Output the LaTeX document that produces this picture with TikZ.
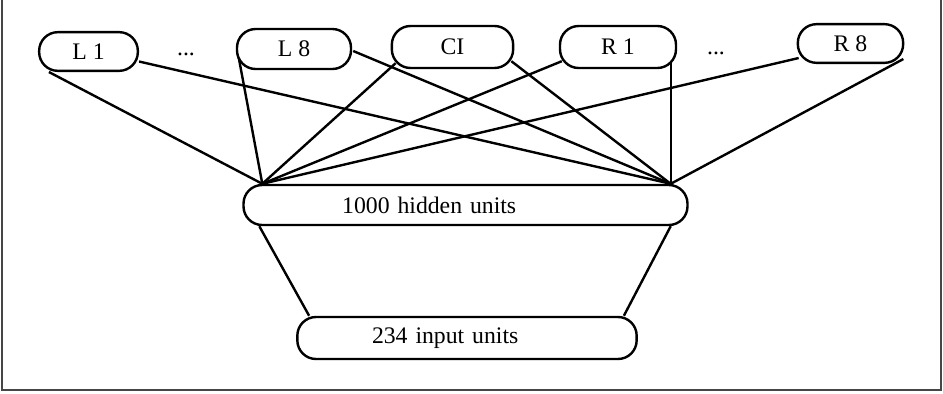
\documentclass[tikz,border=0pt]{standalone}
\usepackage{fontspec}
\setmainfont{Liberation Serif}
\usepackage{tikz}
\usetikzlibrary{calc}
\definecolor{framegrey}{RGB}{70,70,70}
\tikzset{
  unitbox/.style={draw,line width=1.8pt,rounded corners=14pt,inner sep=0pt,
    font=\fontsize{17.8}{20}\selectfont},
  layerbox/.style={unitbox,align=left,inner ysep=0pt},
  dotslabel/.style={font=\fontsize{17.8}{20}\selectfont,inner sep=0pt},
  wire/.style={line width=1.8pt}
}

\begin{document}
\begin{tikzpicture}[x=0.75pt,y=-0.75pt]
  \useasboundingbox (0,0) rectangle (943,393);
  \draw[draw=framegrey,line width=1.1pt] (2,-4) -- (2,390) -- (941,390) -- (941,-4);
  \foreach \name/\txt/\cx/\cy/\w/\h in {l1/L 1/88.5/51.5/74/29,
                                        l8/L 8/294/49/85.5/30,
                                        ci/CI/452.5/47/91/31.5,
                                        r1/R 1/618/47/87/31.5,
                                        r8/R 8/850.5/43.5/79/29}
    \node[unitbox,minimum width=\w pt,minimum height=\h pt] (\name) at (\cx,\cy) {\txt};
  \node[dotslabel] (ldots) at (186,54) {...};
  \node[dotslabel] (rdots) at (716,53) {...};
  \node[layerbox,text width=185pt,inner xsep=74pt,minimum height=30pt]
    (hidden) at (465.5,205) {1000 hidden units};
  \node[layerbox,text width=142.5pt,inner xsep=56pt,minimum height=31.5pt]
    (input) at (467,338) {234 input units};
  \coordinate (hl) at ($(hidden.north west)+(20,0)$);
  \coordinate (hr) at ($(hidden.north east)+(-18,0)$);
  % fan-in to the left end of the hidden layer
  \draw[wire] ($(l1.south west)+(11,0)$) -- (hl);
  \draw[wire] ($(l8.west)+(3,9)$) -- (hl);
  \draw[wire] ($(ci.south west)+(5,-6)$) -- (hl);
  \draw[wire] ($(r1.south west)+(3,-8)$) -- (hl);
  \draw[wire] ($(r8.south west)+(2,-6)$) -- (hl);
  % fan-in to the right end
  \draw[wire] ($(l1.east)+(0,10)$) -- (hr);
  \draw[wire] ($(l8.east)+(1,2)$) -- (hr);
  \draw[wire] ($(ci.south east)+(-3,-8)$) -- (hr);
  \draw[wire] ($(hr |- r1.south)+(0,-6)$) -- (hr);
  \draw[wire] ($(r8.south east)+(-1,-5)$) -- (hr);
  % hidden to input
  \draw[wire] ($(hidden.south west)+(17,0)$) -- ($(input.north west)+(13,0)$);
  \draw[wire] ($(hidden.south east)+(-18,0)$) -- ($(input.north east)+(-14,0)$);
\end{tikzpicture}
\end{document}
